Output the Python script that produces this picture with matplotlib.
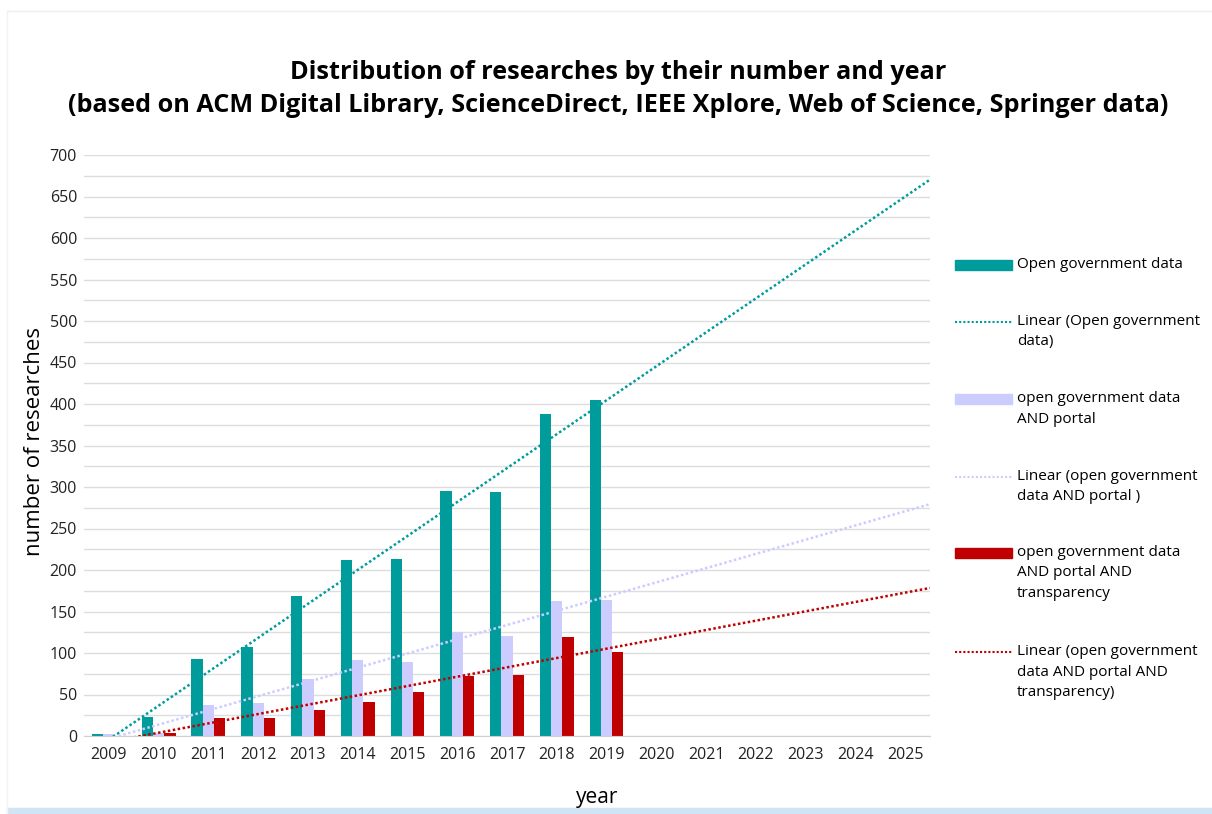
import numpy as np
import matplotlib.pyplot as plt
from matplotlib.patches import Rectangle
from matplotlib.lines import Line2D

plt.rcParams['font.family'] = ['Open Sans', 'DejaVu Sans']

years = [str(y) for y in range(2009, 2026)]
# values (2009-2019 only)
ogd = [2, 23, 93, 107, 169, 212, 213, 295, 294, 388, 405]
ogd_portal = [2, 4, 37, 40, 69, 92, 89, 125, 120, 163, 164]
ogd_portal_transp = [0.5, 4, 22, 22, 31, 41, 53, 72, 73, 119, 101]

teal = '#009B9B'
lav = '#CCCCFF'
red = '#C00000'

W, H = 1212, 814
fig = plt.figure(figsize=(W / 100, H / 100), dpi=100)
ax = fig.add_axes([84 / W, 1 - 736 / H, (930 - 84) / W, (736 - 155) / H])

x_all = np.arange(1, len(years) + 1)
x = np.arange(1, len(ogd) + 1)
bw = 0.227
series = [(ogd, teal), (ogd_portal, lav), (ogd_portal_transp, red)]
for k, (vals, col) in enumerate(series):
    ax.bar(x + (k - 1) * bw, vals, width=bw, color=col, zorder=2)

# linear trendlines, forecast to the end of the axis
xt = np.linspace(1, 17.5, 200)
for vals, col in series:
    a, b = np.polyfit(x, vals, 1)
    ax.plot(xt, a * xt + b, color=col, lw=1.8, linestyle=(0, (1, 1)), zorder=3)

ax.set_xlim(0.5, 17.5)
ax.set_ylim(0, 700)
ax.set_xticks(x_all)
ax.set_xticklabels(years, fontsize=11.5, color='#222222')
ax.set_yticks(np.arange(0, 701, 50))
ax.set_yticks(np.arange(25, 700, 50), minor=True)
ax.tick_params(axis='y', labelsize=11.5, labelcolor='#222222', length=0, pad=5)
ax.tick_params(axis='x', length=0, pad=8)
ax.tick_params(which='minor', length=0)
ax.grid(axis='y', which='both', color='#DDDDDD', lw=1, zorder=0)
for s in ['top', 'right', 'left']:
    ax.spines[s].set_visible(False)
ax.spines['bottom'].set_color('#D0D0D0')

fig.text(35 / W, 1 - 442 / H, 'number of researches', rotation=90, ha='center', va='center', fontsize=16)
fig.text(597 / W, 1 - 798 / H, 'year', ha='center', va='center', fontsize=15)
fig.text(618 / W, 1 - 89 / H,
         'Distribution of researches by their number and year\n'
         '(based on ACM Digital Library, ScienceDirect, IEEE Xplore, Web of Science, Springer data)',
         ha='center', va='center', fontsize=18.2, fontweight='bold', linespacing=1.4)

# legend, drawn by hand so handles sit on the first line of text
legend_items = [
    ('bar', teal, 'Open government data', 265),
    ('line', teal, 'Linear (Open government\ndata)', 322),
    ('bar', lav, 'open government data\nAND portal', 399),
    ('line', lav, 'Linear (open government\ndata AND portal )', 477),
    ('bar', red, 'open government data\nAND portal AND\ntransparency', 553),
    ('line', red, 'Linear (open government\ndata AND portal AND\ntransparency)', 652),
]
for kind, col, label, py in legend_items:
    if kind == 'bar':
        fig.add_artist(Rectangle((955 / W, 1 - (py + 5) / H), 57 / W, 10 / H,
                                 transform=fig.transFigure, color=col))
    else:
        fig.add_artist(Line2D([955 / W, 1012 / W], [1 - py / H] * 2, transform=fig.transFigure,
                              color=col, lw=1.5, linestyle=(0, (1, 1))))
    fig.text(1017 / W, 1 - (py - 8) / H, label, ha='left', va='top', fontsize=11, linespacing=1.5)

# frame lines and bottom band
fig.add_artist(Line2D([7 / W, 1], [1 - 11 / H] * 2, transform=fig.transFigure, color='#EEEEEE', lw=1))
fig.add_artist(Line2D([7 / W, 7 / W], [0, 1 - 11 / H], transform=fig.transFigure, color='#F2F2F2', lw=1))
fig.add_artist(Rectangle((7 / W, 0), 1, 6 / H, transform=fig.transFigure, color='#D0E4F4'))

fig.savefig('out.png', dpi=100)
